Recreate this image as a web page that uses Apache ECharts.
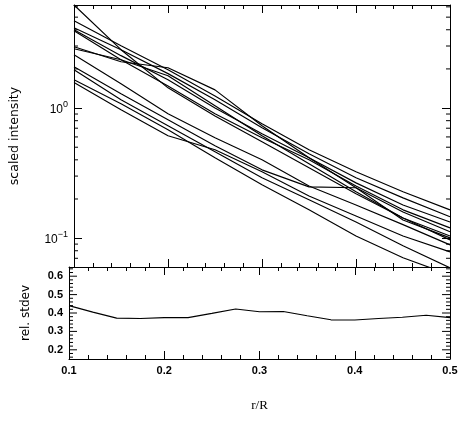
<!DOCTYPE html>
<html>
<head>
<meta charset="utf-8">
<script src="https://cdn.jsdelivr.net/npm/echarts@6/dist/echarts.min.js"></script>
<style>
  html, body { margin: 0; padding: 0; background: #fff; }
  #chart { width: 463px; height: 422px; }
</style>
</head>
<body>
<div id="chart"></div>
<script>
// r/R sample positions of the profiles (top panel)
const rTop = [0.1, 0.15, 0.2, 0.25, 0.3, 0.35, 0.4, 0.45, 0.5]

// scaled intensity profiles, one array per object
const prof1 = [6.2, 2.81, 1.43, 0.87, 0.55, 0.347, 0.219, 0.143, 0.097]
const prof2 = [4.69, 3.01, 1.97, 1.24, 0.757, 0.478, 0.324, 0.227, 0.165]
const prof3 = [4.15, 2.81, 1.84, 1.16, 0.706, 0.445, 0.291, 0.204, 0.146]
const prof4 = [4.0, 2.53, 1.65, 1.0, 0.634, 0.415, 0.266, 0.18, 0.133]
const prof5 = [3.93, 2.35, 1.48, 0.904, 0.591, 0.40, 0.252, 0.165, 0.12]
const prof6 = [2.96, 2.27, 2.04, 1.38, 0.731, 0.415, 0.244, 0.159, 0.112]
const prof7 = [2.86, 2.35, 1.77, 1.04, 0.612, 0.373, 0.227, 0.143, 0.104]
const prof8 = [2.57, 1.54, 0.904, 0.591, 0.40, 0.252, 0.18, 0.127, 0.0888]
const prof9 = [2.08, 1.29, 0.813, 0.513, 0.335, 0.248, 0.244, 0.138, 0.1005]
const prof10 = [1.97, 1.16, 0.731, 0.461, 0.291, 0.197, 0.133, 0.0873, 0.0591]
const prof11 = [1.65, 1.08, 0.681, 0.415, 0.257, 0.165, 0.104, 0.0706, 0.0522]
const prof12 = [1.57, 0.97, 0.612, 0.478, 0.324, 0.211, 0.148, 0.104, 0.0784]
const profiles = [prof1, prof2, prof3, prof4, prof5, prof6, prof7, prof8, prof9, prof10, prof11, prof12]

// relative standard deviation (bottom panel)
const rBottom = [0.1, 0.125, 0.15, 0.175, 0.2, 0.225, 0.25, 0.275, 0.3, 0.325, 0.35, 0.375, 0.4, 0.425, 0.45, 0.475, 0.5]
const relStdev = [0.44, 0.405, 0.372, 0.37, 0.375, 0.375, 0.398, 0.422, 0.407, 0.408, 0.385, 0.363, 0.362, 0.37, 0.377, 0.388, 0.375]

// tick values
const logMinorTicks = [0.07, 0.08, 0.09, 0.2, 0.3, 0.4, 0.5, 0.6, 0.7, 0.8, 0.9, 2, 3, 4, 5, 6]
const stdevTicks = [0.16, 0.18, 0.2, 0.22, 0.24, 0.26, 0.28, 0.3, 0.32, 0.34, 0.36, 0.38, 0.4,
  0.42, 0.44, 0.46, 0.48, 0.5, 0.52, 0.54, 0.56, 0.58, 0.6, 0.62, 0.64]

const FONT = 'Liberation Sans'
const chart = echarts.init(document.getElementById('chart'))

const axisLine = { show: true, lineStyle: { color: '#000', width: 1 } }

const xBase = (gridIndex, position, showLabel) => ({
  type: 'value',
  gridIndex,
  position,
  min: 0.1,
  max: 0.5,
  interval: 0.1,
  axisLine,
  axisTick: { show: true, inside: true, length: 8, lineStyle: { color: '#000' } },
  minorTick: { show: true, splitNumber: 5, length: 4, lineStyle: { color: '#000' } },
  splitLine: { show: false },
  minorSplitLine: { show: false },
  axisLabel: {
    show: showLabel,
    margin: 6,
    color: '#000',
    fontFamily: FONT,
    fontSize: 11,
    fontWeight: 'bold',
    formatter: (v) => v.toFixed(1)
  }
})

const logY = (position, showLabel) => ({
  type: 'log',
  gridIndex: 0,
  position,
  min: 0.06,
  max: 6.2,
  axisLine,
  axisTick: { show: true, inside: true, length: 8, lineStyle: { color: '#000' } },
  minorTick: { show: false },
  splitLine: { show: false },
  axisLabel: {
    show: showLabel,
    margin: 6,
    color: '#000',
    fontFamily: FONT,
    fontSize: 12,
    formatter: (v) => {
      const e = Math.log10(v)
      if (Math.abs(e - Math.round(e)) > 1e-6) return ''
      const exp = Math.round(e)
      return '{b|10}{s|' + (exp < 0 ? '\u2212' + (-exp) : exp) + '}'
    },
    rich: {
      b: { fontFamily: FONT, fontSize: 12, color: '#000', verticalAlign: 'bottom', lineHeight: 16 },
      s: { fontFamily: FONT, fontSize: 9, color: '#000', verticalAlign: 'top', lineHeight: 16 }
    }
  }
})

const linY = (position, showLabel) => ({
  type: 'value',
  gridIndex: 1,
  position,
  min: 0.15,
  max: 0.65,
  interval: 0.05,
  axisLine,
  axisTick: { show: false },
  splitLine: { show: false },
  axisLabel: {
    show: showLabel,
    margin: 6,
    color: '#000',
    fontFamily: FONT,
    fontSize: 11,
    fontWeight: 'bold',
    formatter: (v) => (Math.abs(v * 10 - Math.round(v * 10)) < 1e-6 ? v.toFixed(1) : '')
  }
})

const tickSeries = (xAxisIndex, yAxisIndex, values, isMajor) => ({
  type: 'custom',
  xAxisIndex,
  yAxisIndex,
  silent: true,
  data: values.map((v) => [0.1, v]),
  renderItem: (params, api) => {
    const v = api.value(1)
    const len = isMajor(v) ? 8 : 4
    const a = api.coord([0.1, v])
    const b = api.coord([0.5, v])
    const style = { stroke: '#000', lineWidth: 1 }
    return {
      type: 'group',
      children: [
        { type: 'line', shape: { x1: a[0], y1: a[1], x2: a[0] + len, y2: a[1] }, style },
        { type: 'line', shape: { x1: b[0], y1: b[1], x2: b[0] - len, y2: b[1] }, style }
      ]
    }
  }
})

const nameStyle = { color: '#000', fontFamily: 'DejaVu Sans', fontSize: 12 }

const yAxes = [logY('left', true), logY('right', false), linY('left', true), linY('right', false)]
yAxes[0].name = 'scaled intensity'
yAxes[0].nameLocation = 'middle'
yAxes[0].nameGap = 53
yAxes[0].nameTextStyle = { ...nameStyle, fontSize: 12.5 }
yAxes[2].name = 'rel. stdev'
yAxes[2].nameLocation = 'middle'
yAxes[2].nameGap = 37
yAxes[2].nameTextStyle = nameStyle

const xAxes = [xBase(0, 'bottom', false), xBase(0, 'top', false), xBase(1, 'bottom', true), xBase(1, 'top', false)]
xAxes[2].name = 'r/R'
xAxes[2].nameLocation = 'middle'
xAxes[2].nameGap = 40
xAxes[2].nameTextStyle = { color: '#000', fontFamily: 'Liberation Serif', fontSize: 13 }

const lineStyle = { color: '#000', width: 1.15 }

chart.setOption({
  animation: false,
  grid: [
    { left: 69, top: 5, width: 381, height: 262 },
    { left: 69, top: 267, width: 381, height: 92 }
  ],
  xAxis: xAxes,
  yAxis: yAxes,
  series: [
    ...profiles.map((p) => ({
      type: 'line',
      xAxisIndex: 0,
      yAxisIndex: 0,
      data: rTop.map((r, i) => [r, p[i]]),
      showSymbol: false,
      symbol: 'none',
      clip: true,
      silent: true,
      lineStyle
    })),
    {
      type: 'line',
      xAxisIndex: 2,
      yAxisIndex: 2,
      data: rBottom.map((r, i) => [r, relStdev[i]]),
      showSymbol: false,
      symbol: 'none',
      silent: true,
      lineStyle
    },
    tickSeries(0, 0, logMinorTicks, () => false),
    tickSeries(2, 2, stdevTicks, (v) => Math.abs(v * 10 - Math.round(v * 10)) < 1e-6)
  ]
})
</script>
</body>
</html>
